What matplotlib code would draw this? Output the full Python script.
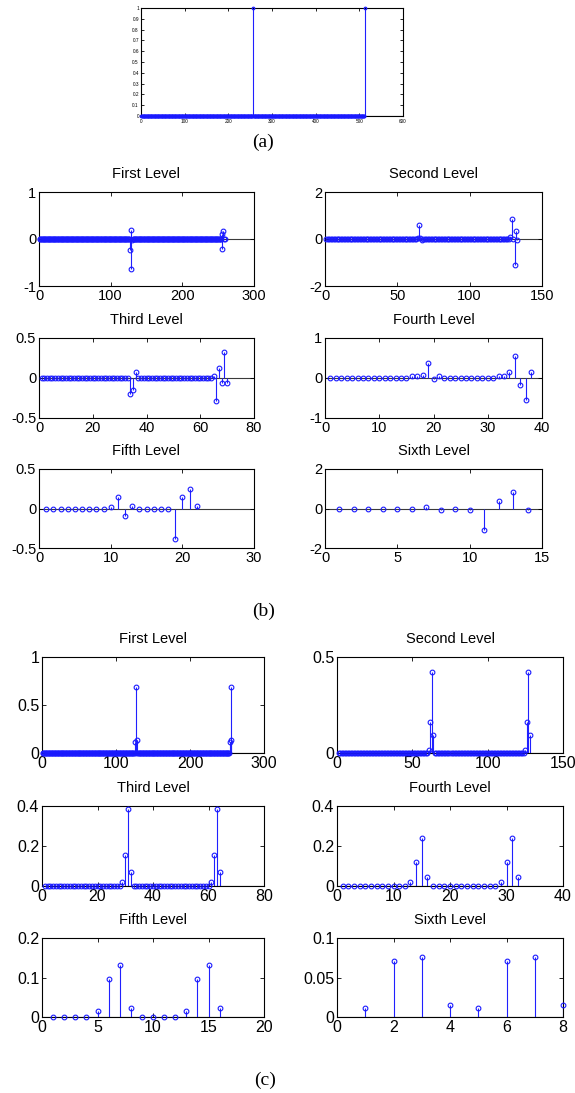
#!/usr/bin/env python3

"""
Stem plots of a two-spike test signal (a), its db4 detail coefficients at
six decomposition levels (b) and the per-level energy coefficients (c).
"""

import numpy as np
import matplotlib.pyplot as plt
from matplotlib.ticker import FormatStrFormatter


W, H = 575, 1093

plt.rcParams["font.family"] = ["Liberation Sans", "DejaVu Sans"]
plt.rcParams["axes.unicode_minus"] = False

TITLES = ["First Level", "Second Level", "Third Level",
          "Fourth Level", "Fifth Level", "Sixth Level"]

# (a) input signal: zeros with two unit spikes
A_LEN = 512
A_IDX = [256, 512]
A_VAL = [1.0, 1.0]

# (b) detail coefficients, only non-zero samples listed
B_LEN = [259, 133, 70, 38, 22, 14]
B_IDX = [
    [127, 128, 129, 130, 255, 256, 257, 258],
    [64, 65, 66, 67, 128, 129, 130, 131, 132, 133],
    [34, 35, 36, 65, 66, 67, 68, 69, 70],
    [16, 17, 18, 19, 20, 21, 32, 33, 34, 35, 36, 37, 38],
    [10, 11, 12, 13, 19, 20, 21, 22],
    [7, 8, 10, 11, 12, 13, 14],
]
B_VAL = [
    [-0.23, -0.63, 0.19, -0.03, 0.10, -0.21, 0.18, 0.01],
    [0.04, 0.58, 0.05, -0.04, 0.10, 0.84, 0.02, -1.09, 0.33, -0.06],
    [-0.20, -0.155, 0.075, 0.02, -0.29, 0.125, -0.06, 0.33, -0.06],
    [0.04, 0.04, 0.075, 0.375, -0.03, 0.04, 0.04, 0.04, 0.16, 0.55, -0.18, -0.55, 0.16],
    [0.017, 0.143, -0.092, 0.034, -0.387, 0.143, 0.248, 0.034],
    [0.08, -0.07, -0.07, -1.09, 0.37, 0.86, -0.07],
]
B_XLIM = [300, 150, 80, 40, 30, 15]
B_XTICKS = [[0, 100, 200, 300], [0, 50, 100, 150], [0, 20, 40, 60, 80],
            [0, 10, 20, 30, 40], [0, 10, 20, 30], [0, 5, 10, 15]]
B_YLIM = [1, 2, 0.5, 1, 0.5, 2]

# (c) energy coefficients, only non-zero samples listed
C_LEN = [256, 128, 64, 32, 16, 8]
C_IDX = [
    [126, 127, 128, 254, 255, 256],
    [61, 62, 63, 64, 125, 126, 127, 128],
    [29, 30, 31, 32, 61, 62, 63, 64],
    [13, 14, 15, 16, 29, 30, 31, 32],
    [5, 6, 7, 8, 13, 14, 15, 16],
    [1, 2, 3, 4, 5, 6, 7, 8],
]
C_VAL = [
    [0.11, 0.69, 0.14, 0.11, 0.69, 0.14],
    [0.014, 0.159, 0.42, 0.096, 0.014, 0.159, 0.42, 0.096],
    [0.02, 0.155, 0.385, 0.07, 0.02, 0.155, 0.385, 0.07],
    [0.018, 0.12, 0.238, 0.043, 0.018, 0.12, 0.238, 0.043],
    [0.015, 0.095, 0.132, 0.024, 0.015, 0.095, 0.132, 0.024],
    [0.012, 0.0714, 0.076, 0.0147, 0.012, 0.0714, 0.076, 0.0147],
]
C_XLIM = [300, 150, 80, 40, 20, 8]
C_XTICKS = [[0, 100, 200, 300], [0, 50, 100, 150], [0, 20, 40, 60, 80],
            [0, 10, 20, 30, 40], [0, 5, 10, 15, 20], [0, 2, 4, 6, 8]]
C_YLIM = [1, 0.5, 0.4, 0.4, 0.2, 0.1]
C_YTICKS = [[0, 0.5, 1], [0, 0.5], [0, 0.2, 0.4], [0, 0.2, 0.4],
            [0, 0.1, 0.2], [0, 0.05, 0.1]]

# axes boxes in pixels: left, top, right, bottom
A_BOX = (141, 8, 403, 116)
B_BOXES = [(39, 192, 254, 286), (325, 192, 542, 286),
           (39, 338, 254, 418), (325, 338, 542, 418),
           (39, 469, 254, 548), (325, 469, 542, 548)]
C_BOXES = [(42, 657, 264, 753), (337, 657, 563, 753),
           (42, 806, 264, 886), (337, 806, 563, 886),
           (42, 938, 264, 1017), (337, 938, 563, 1017)]


def build(length, idx, val):
    y = np.zeros(length)
    y[np.array(idx) - 1] = val
    return y


def add_box(fig, box):
    l, t, r, b = box
    return fig.add_axes([l / W, 1 - b / H, (r - l) / W, (b - t) / H])


def style_axes(ax, fs):
    ax.tick_params(direction="in", top=True, right=True, length=3,
                   width=0.6, labelsize=fs, pad=2)
    for s in ax.spines.values():
        s.set_linewidth(0.8)
        s.set_color("black")
    ax.yaxis.set_major_formatter(FormatStrFormatter("%g"))


def stem_panel(ax, y, ms=3.4, mew=0.8):
    n = np.arange(1, len(y) + 1)
    ax.axhline(0, color="#3a3a3a", lw=0.8, zorder=1)
    ml, sl, bl = ax.stem(n, y, linefmt="-", markerfmt="o", basefmt=" ")
    sl.set_color("#2020ff")
    sl.set_linewidth(0.8)
    ml.set_markerfacecolor("none")
    ml.set_markeredgecolor("#1a1aff")
    ml.set_markersize(ms)
    ml.set_markeredgewidth(mew)
    ml.set_clip_on(False)
    ml.set_zorder(4)
    bl.set_visible(False)


fig = plt.figure(figsize=(W / 100, H / 100), dpi=100)

# (a)
ax = add_box(fig, A_BOX)
stem_panel(ax, build(A_LEN, A_IDX, A_VAL), ms=1.8, mew=0.9)
ax.set_xlim(0, 600)
ax.set_ylim(0, 1)
ax.set_xticks(range(0, 601, 100))
ax.set_yticks(np.round(np.arange(0, 1.01, 0.1), 1))
style_axes(ax, 3.4)
ax.tick_params(length=2)
ax.tick_params(axis="x", pad=2.2)
ax.tick_params(axis="y", pad=1.5)

# (b)
for k in range(6):
    ax = add_box(fig, B_BOXES[k])
    stem_panel(ax, build(B_LEN[k], B_IDX[k], B_VAL[k]))
    ax.set_xlim(0, B_XLIM[k])
    ax.set_ylim(-B_YLIM[k], B_YLIM[k])
    ax.set_xticks(B_XTICKS[k])
    ax.set_yticks([-B_YLIM[k], 0, B_YLIM[k]])
    style_axes(ax, 10.5)
    ax.set_title(TITLES[k], fontsize=10.5, pad=10)

# (c)
for k in range(6):
    ax = add_box(fig, C_BOXES[k])
    stem_panel(ax, build(C_LEN[k], C_IDX[k], C_VAL[k]))
    ax.set_xlim(0, C_XLIM[k])
    ax.set_ylim(0, C_YLIM[k])
    ax.set_xticks(C_XTICKS[k])
    ax.set_yticks(C_YTICKS[k])
    style_axes(ax, 11.5)
    ax.set_title(TITLES[k], fontsize=10.5, pad=10)

for label, x, y in [("(a)", 263, 142), ("(b)", 264, 611), ("(c)", 265, 1080)]:
    fig.text(x / W, 1 - y / H, label, family="Liberation Serif",
             fontsize=14, ha="center", va="center")

fig.savefig("out.png", dpi=100)
